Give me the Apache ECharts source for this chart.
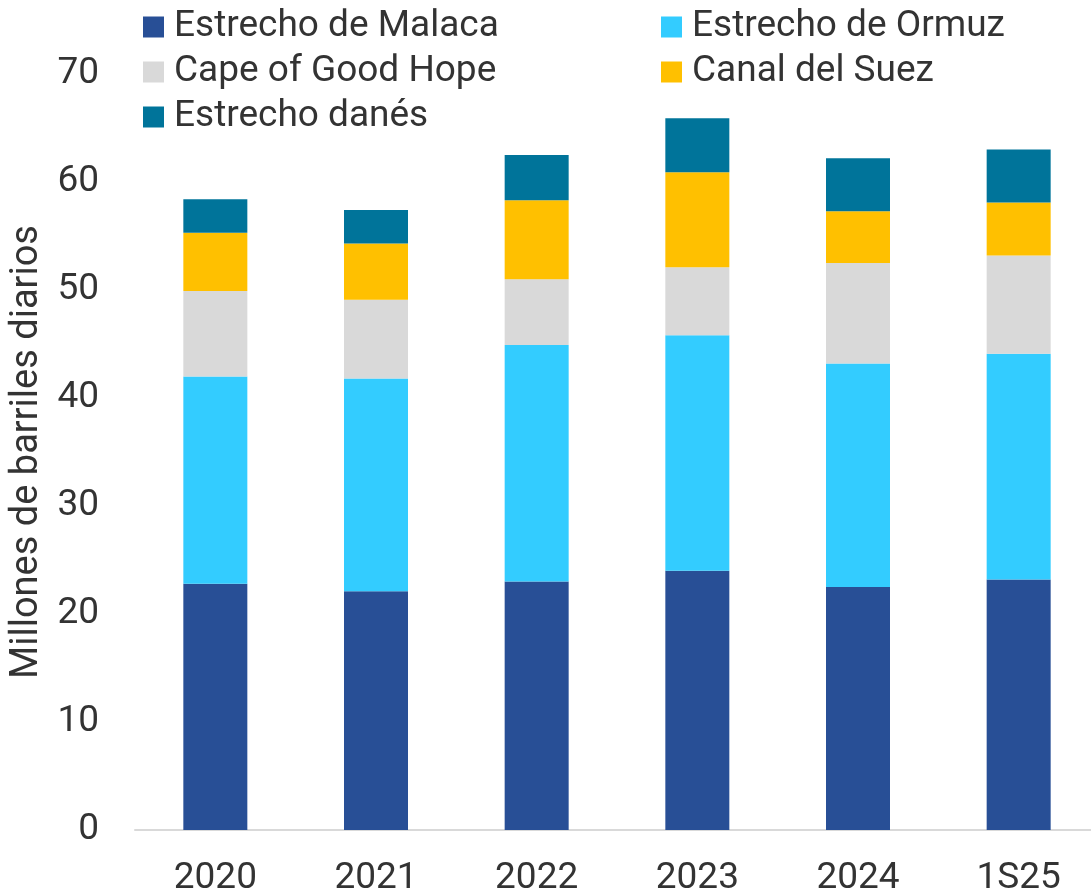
<!DOCTYPE html>
<html>
<head>
<meta charset="utf-8">
<script src="https://cdn.jsdelivr.net/npm/echarts@6/dist/echarts.min.js"></script>
<style>
  html, body { margin: 0; padding: 0; background: #fff; }
  #main { width: 1091px; height: 895px; }
</style>
</head>
<body>
<div id="main"></div>
<script>
  var categories = ["2020", "2021", "2022", "2023", "2024", "1S25"];
  var malaca = [22.8, 22.1, 23.0, 24.0, 22.5, 23.2];
  var ormuz = [19.2, 19.7, 21.9, 21.8, 20.7, 20.9];
  var cape = [7.9, 7.3, 6.1, 6.3, 9.3, 9.1];
  var suez = [5.4, 5.2, 7.3, 8.8, 4.8, 4.9];
  var danes = [3.1, 3.1, 4.2, 5.0, 4.9, 4.9];
  var yTicks = [0, 10, 20, 30, 40, 50, 60, 70];

  var textColor = "#333333";
  var font = "Roboto";

  var chartDom = document.getElementById("main");
  var myChart = echarts.init(chartDom);

  function bar(name, data, color) {
    return {
      name: name,
      type: "bar",
      stack: "total",
      barWidth: 64,
      data: data,
      itemStyle: { color: color },
      emphasis: { disabled: true }
    };
  }

  var legendText = {
    color: textColor,
    fontFamily: font,
    fontSize: 37,
    lineHeight: 42,
    padding: [0, 0, 0, 5]
  };

  var option = {
    animation: false,
    textStyle: { fontFamily: font },
    legend: [
      {
        orient: "vertical",
        left: 143,
        top: 6,
        padding: 0,
        itemWidth: 21,
        itemHeight: 21,
        itemGap: 3,
        icon: "rect",
        textStyle: legendText,
        data: ["Estrecho de Malaca", "Cape of Good Hope", "Estrecho danés"]
      },
      {
        orient: "vertical",
        left: 661,
        top: 6,
        padding: 0,
        itemWidth: 21,
        itemHeight: 21,
        itemGap: 3,
        icon: "rect",
        textStyle: legendText,
        data: ["Estrecho de Ormuz", "Canal del Suez"]
      }
    ],
    grid: {
      left: 135,
      top: 74,
      width: 964,
      height: 756,
      outerBoundsMode: "none"
    },
    xAxis: {
      type: "category",
      data: categories,
      axisLine: { lineStyle: { color: "#d9d9d9", width: 2 } },
      axisTick: { show: false },
      axisLabel: {
        color: textColor,
        fontFamily: font,
        fontSize: 37,
        margin: 30
      }
    },
    yAxis: {
      type: "value",
      min: yTicks[0],
      max: yTicks[yTicks.length - 1],
      interval: 10,
      name: "Millones de barriles diarios",
      nameLocation: "middle",
      nameGap: 85,
      nameTextStyle: {
        color: textColor,
        fontFamily: font,
        fontSize: 38
      },
      axisLine: { show: false },
      axisTick: { show: false },
      splitLine: { show: false },
      axisLabel: {
        color: textColor,
        fontFamily: font,
        fontSize: 37,
        margin: 36
      }
    },
    series: [
      bar("Estrecho de Malaca", malaca, "#284f96"),
      bar("Estrecho de Ormuz", ormuz, "#33ccff"),
      bar("Cape of Good Hope", cape, "#d9d9d9"),
      bar("Canal del Suez", suez, "#ffc000"),
      bar("Estrecho danés", danes, "#00749a")
    ]
  };

  option && myChart.setOption(option);
</script>
</body>
</html>
